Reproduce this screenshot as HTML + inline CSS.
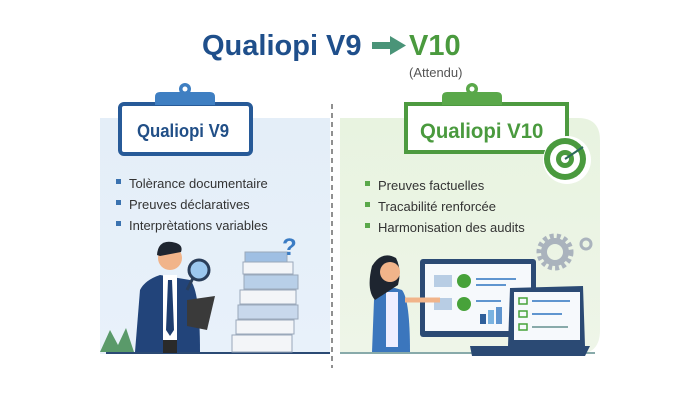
<!DOCTYPE html>
<html><head><style>
body{margin:0;width:700px;height:400px;background:#fff;overflow:hidden;position:relative;font-family:"Liberation Sans",sans-serif}
.t{position:absolute;white-space:nowrap}
</style></head><body>
<svg width="700" height="400" style="position:absolute;left:0;top:0">
<defs>
<linearGradient id="lg" x1="0" x2="0" y1="0" y2="1"><stop offset="0" stop-color="#e4eef8"/><stop offset="1" stop-color="#e8f1fa"/></linearGradient>
<linearGradient id="rg" x1="0" x2="0" y1="0" y2="1"><stop offset="0" stop-color="#e8f3e0"/><stop offset="1" stop-color="#eef5e8"/></linearGradient>
</defs>
<path d="M100 118 H330 V354 H100 Z" fill="url(#lg)"/>
<path d="M340 118 H578 Q600 118 600 140 V330 Q600 354 578 354 H340 Z" fill="url(#rg)"/>
<line x1="332" y1="104" x2="332" y2="368" stroke="#555" stroke-width="1.3" stroke-dasharray="5,4"/>
<line x1="106" y1="353" x2="330" y2="353" stroke="#2b4a74" stroke-width="2"/>
<line x1="340" y1="353" x2="595" y2="353" stroke="#8aa" stroke-width="2"/>
<rect x="372" y="42" width="20" height="7" fill="#4a9478"/><polygon points="390,36 406,45.5 390,55" fill="#4a9478"/>
<rect x="120" y="104" width="131" height="50" rx="4" fill="#fff" stroke="#275a98" stroke-width="4"/>
<path d="M155 105 V97 Q155 92 160 92 H210 Q215 92 215 97 V105 Z" fill="#3f7fc2"/>
<circle cx="185" cy="89" r="6" fill="#3f7fc2"/><circle cx="185" cy="89" r="2.5" fill="#fff"/>
<path d="M406 104 H567 V152 H406 Z" fill="#fff" stroke="#4d9a40" stroke-width="4"/>
<path d="M442 105 V97 Q442 92 447 92 H497 Q502 92 502 97 V105 Z" fill="#5aa84a"/>
<circle cx="472" cy="89" r="6" fill="#5aa84a"/><circle cx="472" cy="89" r="2.5" fill="#fff"/>
<circle cx="567" cy="160" r="24" fill="#fff"/>
<circle cx="565" cy="159" r="21" fill="#4a9a3e"/><circle cx="565" cy="159" r="15" fill="#fff"/><circle cx="565" cy="159" r="9" fill="#4a9a3e"/><circle cx="565" cy="159" r="4" fill="#fff"/>
<line x1="565" y1="159" x2="583" y2="147" stroke="#2b6a5a" stroke-width="2"/>
<rect x="116" y="179" width="5" height="5" fill="#3a72b0"/><rect x="116" y="200" width="5" height="5" fill="#3a72b0"/><rect x="116" y="221" width="5" height="5" fill="#3a72b0"/>
<rect x="365" y="181" width="5" height="5" fill="#5aa84a"/><rect x="365" y="202" width="5" height="5" fill="#5aa84a"/><rect x="365" y="223" width="5" height="5" fill="#5aa84a"/>
<path d="M100 352 L110 330 L118 345 L126 328 L134 352 Z" fill="#5a9a6a"/>
<path d="M135 352 L140 290 Q145 280 160 275 L190 280 Q200 290 200 352 Z" fill="#22447a"/>
<rect x="163" y="275" width="14" height="65" fill="#fff"/><polygon points="168,280 172,280 174,330 170,336 166,330" fill="#1e3d6e"/>
<rect x="163" y="340" width="14" height="13" fill="#2a2a2a"/>
<circle cx="170" cy="258" r="12" fill="#f1b48a"/><path d="M157 255 Q158 240 172 242 Q184 244 181 252 L160 256 Z" fill="#1e2530"/>
<circle cx="199" cy="270" r="10" fill="#9cc8ef" stroke="#2a3e5a" stroke-width="3"/><line x1="193" y1="278" x2="187" y2="290" stroke="#2a3e5a" stroke-width="3"/>
<polygon points="187,300 215,296 207,330 187,326" fill="#3a3a3a"/>
<g fill="#f3f5f8" stroke="#9aa8ba" stroke-width="1">
<rect x="232" y="335" width="60" height="17"/><rect x="236" y="320" width="58" height="14"/><rect x="238" y="305" width="60" height="14" fill="#c8d8ec"/>
<rect x="240" y="290" width="56" height="14"/><rect x="244" y="275" width="54" height="14" fill="#b8cfe8"/><rect x="243" y="262" width="50" height="12"/><rect x="245" y="252" width="42" height="10" fill="#9fbfe3"/></g>
<text x="282" y="255" font-size="24" font-weight="bold" fill="#3a7cc4" font-family="Liberation Sans">?</text>
<circle cx="555" cy="252" r="16" fill="none" stroke="#aab3bd" stroke-width="5" stroke-dasharray="4,3"/>
<circle cx="555" cy="252" r="11" fill="none" stroke="#aab3bd" stroke-width="6"/>
<circle cx="586" cy="244" r="5" fill="none" stroke="#aab3bd" stroke-width="3"/>
<rect x="420" y="259" width="116" height="78" rx="3" fill="#2b4a74"/><rect x="425" y="264" width="106" height="67" fill="#f6f9fc"/>
<rect x="434" y="275" width="18" height="12" fill="#b8cde4"/><rect x="434" y="298" width="18" height="12" fill="#b8cde4"/>
<circle cx="464" cy="281" r="7" fill="#47a23a"/><circle cx="464" cy="304" r="7" fill="#47a23a"/>
<rect x="476" y="278" width="40" height="2" fill="#5f95cf"/><rect x="476" y="284" width="30" height="2" fill="#5f95cf"/><rect x="476" y="300" width="25" height="2" fill="#5f95cf"/>
<rect x="480" y="314" width="6" height="10" fill="#2e5f9a"/><rect x="488" y="310" width="6" height="14" fill="#7ab3e0"/><rect x="496" y="307" width="6" height="17" fill="#5f95cf"/>
<polygon points="510,288 583,286 585,346 508,346" fill="#2b4a74"/><rect x="514" y="292" width="66" height="48" fill="#f6f9fc"/>
<rect x="519" y="298" width="8" height="6" fill="none" stroke="#47a23a" stroke-width="1.5"/><rect x="519" y="311" width="8" height="6" fill="none" stroke="#47a23a" stroke-width="1.5"/><rect x="519" y="324" width="8" height="6" fill="none" stroke="#47a23a" stroke-width="1.5"/>
<rect x="532" y="300" width="38" height="2" fill="#5f95cf"/><rect x="532" y="313" width="30" height="2" fill="#5f95cf"/><rect x="532" y="326" width="36" height="2" fill="#8aa"/>
<polygon points="470,346 590,346 585,356 472,356" fill="#2b4a74"/>
<path d="M372 352 L374 300 Q380 288 395 288 L402 290 Q410 300 410 352 Z" fill="#3b76bd"/>
<rect x="386" y="292" width="12" height="55" fill="#eef"/>
<path d="M375 300 Q366 290 372 266 Q382 250 396 258 Q402 270 398 285 Z" fill="#1e2530"/>
<circle cx="390" cy="272" r="10" fill="#f1b48a"/>
<line x1="405" y1="300" x2="440" y2="300" stroke="#f1b48a" stroke-width="5"/>
</svg>
<div class="t" style="left:202px;top:30px;font-size:29px;font-weight:bold;color:#1f4f8b">Qualiopi V9</div>
<div class="t" style="left:409px;top:30px;font-size:29px;font-weight:bold;color:#4a9a3e">V10</div>
<div class="t" style="left:409px;top:65px;font-size:13px;color:#555">(Attendu)</div>
<div class="t" style="left:137px;top:121px;font-size:18px;font-weight:bold;color:#214f87;transform:scaleX(0.93);transform-origin:left">Qualiopi V9</div>
<div class="t" style="left:420px;top:120px;font-size:21px;font-weight:bold;color:#4a9a3e;transform:scaleX(0.97);transform-origin:left">Qualiopi V10</div>
<div class="t" style="left:129px;top:173px;font-size:13px;color:#333;line-height:21px">Tolèrance documentaire<br>Preuves déclaratives<br>Interprètations variables</div>
<div class="t" style="left:378px;top:175px;font-size:13px;color:#333;line-height:21px">Preuves factuelles<br>Tracabilité renforcée<br>Harmonisation des audits</div>
</body></html>
